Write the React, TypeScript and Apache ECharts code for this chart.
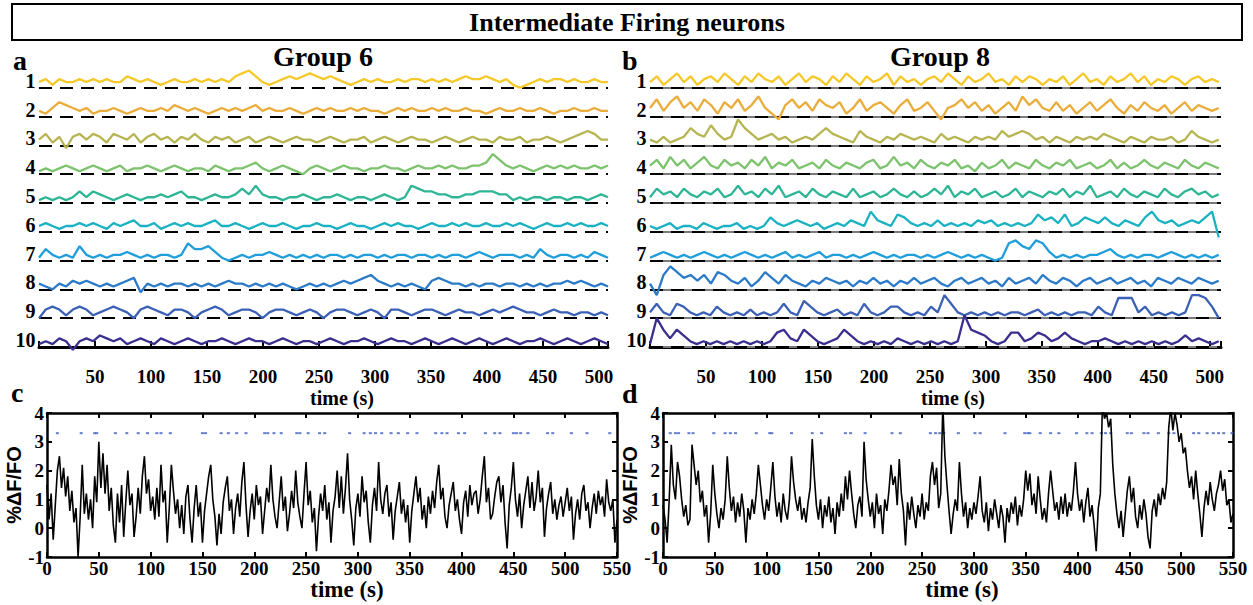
import React, { useEffect, useRef } from "react";
import * as echarts from "echarts";

// ---------- DATA ----------
const traceLabels = ["1", "2", "3", "4", "5", "6", "7", "8", "9", "10"];
const traceColors = ["#f7c82a", "#eaad3c", "#b7b552", "#7dc26d", "#2db596", "#1ab2c2", "#1f9edb", "#2b7bc8", "#3b61b7", "#3a2e8f"];
const xTicksTop = [50, 100, 150, 200, 250, 300, 350, 400, 450, 500];
const durationTop = 508;
const durationBottom = 550;

// Group 6 traces (amplitude in tenths of the row spacing), 0..508 s
const a1 = [2,3,1,3,2,2,3,2,3,2, 3,2,2,4,3,2,3,2,1,2, 3,2,2,3,2,3,2,3,2,4, 5,6,4,2,1,2,3,4,3,4, 5,4,3,4,3,2,1,2,3,2, 3,2,2,3,2,3,3,2,3,2, 3,2,3,4,3,3,4,3,2,3, 1,0,1,2,3,2,3,3,2,3, 2,2,3,2,2];
const a2 = [2,1,3,5,4,3,2,3,1,2, 2,3,2,1,2,3,2,2,3,2, 4,3,2,3,2,1,2,3,2,3, 2,3,4,2,3,2,2,3,2,1, 2,3,2,3,2,2,3,2,3,2, 2,1,2,3,2,3,2,2,3,2, 3,2,2,3,2,2,1,2,3,2, 2,3,2,2,3,2,1,2,2,3, 2,2,3,2,2];
const a3 = [2,4,1,3,-1,3,4,2,4,3, 1,4,3,2,4,1,3,4,2,3, 1,3,2,4,2,1,3,2,3,1, 2,3,1,2,3,2,1,2,3,2, 2,1,2,3,2,1,2,2,3,1, 2,3,2,1,2,3,2,2,1,2, 3,2,1,2,3,2,2,1,3,2, 2,3,1,2,2,3,2,1,2,3, 4,5,4,2,2];
const a4 = [1,2,1,2,3,2,1,2,3,2, 1,2,3,1,2,2,3,2,1,2, 3,2,1,2,2,1,3,2,1,2, 2,3,4,2,1,2,3,2,1,0, 2,3,2,1,2,3,2,2,1,2, 2,3,2,2,1,2,3,2,2,3, 2,3,2,2,3,3,4,7,5,3, 2,3,2,1,2,3,2,3,2,3, 2,2,3,2,3];
const a5 = [1,2,1,2,1,2,4,2,4,3, 2,1,2,3,2,1,2,2,3,2, 3,4,2,2,1,2,3,2,2,3, 5,3,6,3,2,2,1,2,2,3, 2,1,2,2,3,2,1,2,2,1, 2,3,2,1,2,6,5,4,4,3, 3,2,2,3,3,4,4,4,3,3, 1,2,1,2,2,1,2,2,1,2, 2,1,2,3,2];
const a6 = [2,3,2,1,2,2,3,2,3,2, 1,3,2,3,4,2,2,3,1,2, 3,2,3,2,2,3,4,2,2,3, 2,1,2,3,2,2,3,2,1,2, 2,3,2,2,1,2,3,2,2,1, 2,3,2,3,2,2,1,2,3,2, 2,3,2,3,2,2,3,2,2,3, 2,3,2,1,2,3,2,2,3,2, 3,2,2,3,2];
const a7 = [1,4,2,1,2,1,5,2,1,2, 1,2,2,3,2,1,2,1,2,2, 1,2,6,4,4,5,3,1,0,1, 2,1,2,2,3,2,1,2,1,2, 1,2,1,2,2,1,2,1,2,2, 1,2,1,2,2,1,2,2,1,2, 1,2,2,1,2,3,2,1,2,2, 2,1,2,1,4,2,1,2,2,1, 2,1,3,2,1];
const a8 = [2,1,0,2,1,3,2,3,2,1, 2,1,2,3,4,-1,2,1,2,1, 2,2,1,2,1,2,1,2,3,2, 2,1,2,1,2,1,2,1,0,1, 2,1,2,1,2,3,2,3,4,5, 3,2,1,2,1,2,1,0,3,4, 3,2,2,1,2,1,2,2,1,2, 2,1,2,1,2,1,2,2,3,2, 3,2,1,2,1];
const a9 = [0,3,4,3,1,3,4,3,1,2, 3,4,3,2,0,3,4,3,2,1, 3,3,2,0,2,3,4,3,1,2, 3,3,2,0,2,3,3,2,1,2, 3,2,0,2,3,3,2,1,2,3, 2,0,3,3,2,1,2,3,3,2, 1,2,3,2,2,1,2,3,2,3, 4,3,2,2,1,2,3,2,2,1, 2,2,1,2,1];
const a10 = [1,2,1,3,2,-1,2,3,2,4, 3,2,3,1,2,3,2,1,3,2, 1,2,3,2,1,2,2,3,2,1, 2,3,2,2,1,2,3,2,1,2, 2,1,2,3,2,1,2,2,3,2, 1,2,3,2,2,1,2,3,2,1, 2,3,2,1,2,3,2,1,2,3, 2,1,2,2,3,2,1,2,3,2, 1,2,3,2,1];

// Group 8 traces, 0..508 s
const b1 = [2,4,1,3,5,2,4,1,3,4, 2,5,3,1,4,2,5,3,2,4, 1,3,5,2,4,3,1,4,2,5, 3,1,4,2,3,5,1,4,2,3, 1,3,4,2,5,3,1,4,2,3, 5,2,3,1,4,2,4,3,1,3, 2,4,1,3,5,2,3,1,4,2, 3,5,2,4,1,3,2,4,3,1, 3,4,2,3,2];
const b2 = [3,6,2,5,7,3,5,2,6,4, 1,5,3,6,2,4,7,3,1,-1, 4,6,3,5,2,6,4,3,5,1, 3,6,2,4,5,3,1,4,6,2, 3,5,2,-1,3,4,6,3,5,2, 4,1,3,5,2,7,4,6,3,2, 5,2,4,1,3,5,2,4,6,3, 1,4,2,5,3,2,4,1,3,5, 2,4,3,2,3];
const b3 = [2,1,3,1,2,3,6,4,3,7, 4,2,3,9,6,4,2,3,4,2, 3,1,2,3,2,4,6,4,3,2, 1,5,3,2,1,3,2,4,3,2, 3,2,1,4,2,3,2,1,3,2, 3,2,5,3,4,5,4,2,3,1, 3,2,1,3,2,3,2,4,3,2, 1,3,2,1,3,2,2,3,1,2, 5,3,2,1,2];
const b4 = [3,5,2,6,3,5,2,4,6,3, 2,5,3,4,2,5,3,6,2,4, 3,5,2,3,4,2,5,3,2,4, 3,2,4,5,2,3,6,3,4,2, 5,3,2,4,3,5,2,3,1,4, 2,3,5,2,4,3,2,5,3,2, 4,3,5,2,3,4,2,3,5,2, 4,2,3,5,3,2,4,3,2,5, 3,2,4,3,2];
const b5 = [2,5,3,4,2,5,3,2,4,3, 5,2,3,6,3,4,2,5,3,6, 2,3,4,2,5,3,2,4,3,2, 5,2,3,4,2,3,5,3,2,4, 2,3,5,3,6,2,4,3,5,2, 3,4,2,3,5,2,4,3,2,4, 3,5,2,4,3,6,2,3,4,2, 5,3,2,4,3,2,5,3,2,4, 5,3,4,2,3];
const b6 = [2,1,2,3,1,2,2,1,3,2, 1,2,2,3,1,2,1,2,5,3, 2,3,4,3,2,3,1,2,3,2, 4,3,2,7,4,3,2,6,5,3, 2,3,2,4,2,3,2,3,2,4, 3,4,2,3,2,3,2,3,6,4, 5,3,6,2,3,5,4,3,5,3, 2,4,3,2,5,7,4,3,4,2, 3,4,3,5,7,-2];
const b7 = [1,2,3,2,1,2,1,2,3,2, 1,2,1,2,3,2,1,2,1,2, 3,1,2,1,2,3,1,2,2,1, 2,1,2,3,2,1,2,1,2,2, 1,2,1,2,3,2,1,2,1,2, 1,0,1,6,7,5,4,7,6,3, 1,2,1,2,1,2,2,3,4,2, 1,2,1,2,2,1,2,3,2,1, 2,1,2,1,2];
const b8 = [2,-2,5,8,6,4,5,3,5,2, 6,5,3,2,4,1,3,6,4,2, 5,3,2,1,3,2,4,3,2,3, 1,3,2,4,2,3,1,3,2,4, 2,3,4,2,1,3,4,2,3,4, 2,3,1,4,2,3,4,2,5,3, 2,4,3,1,3,4,2,3,4,2, 3,4,2,3,1,4,3,2,4,3, 2,4,3,2,3];
const b9 = [2,5,2,1,5,4,2,1,2,1, 4,2,1,2,1,3,1,2,1,2, 5,2,1,6,4,2,1,2,3,1, 2,1,5,2,1,2,4,4,2,1, 2,1,4,2,8,5,2,1,2,1, 2,1,2,1,2,2,1,2,3,1, 2,1,2,1,2,2,1,4,2,1, 7,7,7,2,4,1,2,1,2,1, 2,8,8,7,4,0];
const b10 = [1,10,6,3,6,4,2,1,2,1, 2,1,2,1,2,1,2,1,2,5, 6,3,2,6,4,2,1,2,3,6, 4,2,1,2,1,2,1,3,2,1, 2,1,2,1,2,1,2,11,6,5, 4,2,1,2,5,5,2,3,5,4, 2,3,5,3,2,1,2,2,3,2, 1,2,1,2,1,2,1,2,1,2, 4,2,3,2,1,2];

// Mean traces (tenths of %ΔF/F0), every 2 s from 0 to 550 s
const cTrace = [
  15,3,12,-4,8,20,25,14,21,11,18,6,13,2,7,-10,4,22,5,12,3,10,0,18,9,
  30,14,26,12,22,6,14,1,-5,12,2,15,-3,9,20,8,12,-3,4,14,5,18,25,12,17,
  6,11,3,14,4,22,9,13,-5,7,22,13,5,10,0,8,-2,11,15,3,-5,7,15,4,9,
  -5,6,12,18,22,10,4,-6,5,-2,9,14,18,6,10,-2,7,12,4,16,23,8,-3,6,12,
  3,15,8,11,-2,6,14,9,22,10,4,0,9,18,6,11,-1,5,13,7,20,9,4,0,12,
  23,8,13,2,7,-8,4,12,6,15,3,9,-5,6,11,20,7,18,5,14,26,10,3,-6,7,
  12,4,18,9,13,2,-5,8,14,6,23,10,5,12,15,4,9,-4,6,11,16,5,10,2,8,
  -5,6,12,18,9,14,3,8,0,11,5,13,7,16,22,10,14,4,0,8,12,16,6,10,3,
  -2,9,13,4,15,8,12,13,5,10,18,25,9,14,3,5,11,16,18,9,15,2,-7,8,14,
  23,10,4,12,0,8,13,18,7,16,6,11,20,9,14,-3,7,12,16,5,10,3,8,11,4,
  9,14,6,11,-4,5,10,3,12,15,6,9,0,7,12,5,13,8,11,4,17,9,6,10,-5,3
];
const dTrace = [
  8,3,-5,10,29,15,10,23,18,10,4,8,1,3,29,22,15,20,9,13,4,8,-5,5,22,
  12,5,0,7,3,10,25,14,6,11,2,9,4,12,6,-5,7,3,10,5,12,22,15,8,3,
  10,6,14,23,11,4,9,2,12,6,3,10,25,16,10,6,11,3,7,2,9,14,31,18,8,
  3,10,0,8,4,11,2,7,-2,9,4,12,6,18,10,20,12,5,0,8,11,4,30,17,10,
  4,9,0,12,5,8,-2,10,6,13,22,15,18,8,24,12,6,-6,9,3,11,5,0,8,4,
  12,3,9,6,18,23,15,21,7,12,43,25,15,6,-2,5,10,6,23,12,4,9,0,7,3,
  9,5,11,18,6,2,9,-1,7,3,10,5,0,8,4,-5,7,2,9,5,11,1,8,4,10,
  20,13,19,8,12,5,18,10,3,7,2,12,20,13,6,9,3,11,5,12,4,9,6,13,23,
  12,6,10,2,9,14,4,8,1,-8,7,12,43,38,40,35,38,22,12,5,0,6,-3,5,13,
  18,9,14,4,0,8,3,10,5,-3,-7,6,10,4,12,8,14,10,16,35,42,34,40,36,30,
  33,26,28,20,14,18,10,20,12,5,-3,7,13,8,16,10,6,12,15,20,13,17,8,10,2,5
];
// detected events (s), drawn at the top of panels c and d
const cEvents = [10,33,46,48,66,77,88,97,106,110,119,150,153,168,175,183,192,210,213,219,226,241,244,252,263,268,292,306,312,317,323,332,339,348,357,375,381,386,397,403,423,432,437,450,453,457,464,483,488,506,521,543];
const dEvents = [7,12,15,25,29,49,60,65,70,90,103,105,124,144,153,176,181,195,221,229,258,263,267,271,285,301,306,330,349,352,354,364,374,382,399,409,414,423,427,432,448,452,464,468,478,488,493,512,517,525,531,536,541,549];
const eventLevel = 3.3;

const groupA = [a1, a2, a3, a4, a5, a6, a7, a8, a9, a10];
const groupB = [b1, b2, b3, b4, b5, b6, b7, b8, b9, b10];

// ---------- STYLE ----------
const serif = '"Liberation Serif", "Times New Roman", serif';
const sans = '"Liberation Sans", Arial, sans-serif';

function traceSeries(arr: number[], i: number, gridIdx: number, tmax: number, dashedOnly: boolean) {
  const step = tmax / (arr.length - 1);
  const base = 9 - i;
  const lines: any[] = dashedOnly
    ? [{ yAxis: base, lineStyle: { color: "#000", width: 2, type: [13, 8] } }]
    : [
        { yAxis: base, lineStyle: { color: "#7a7a7a", width: 2, type: "solid" } },
        { yAxis: base, lineStyle: { color: "#000", width: 2, type: [13, 8] } },
      ];
  return {
    type: "line",
    xAxisIndex: gridIdx,
    yAxisIndex: gridIdx,
    data: arr.map((v, k) => [k * step, base + v / 10]),
    showSymbol: false,
    symbol: "none",
    lineStyle: { color: traceColors[i], width: 2.3, join: "bevel" },
    itemStyle: { color: traceColors[i] },
    z: 3,
    markLine: {
      silent: true,
      symbol: ["none", "none"],
      label: { show: false },
      z: 2,
      data: lines,
    },
    markPoint: {
      silent: true,
      symbol: "circle",
      symbolSize: 1,
      itemStyle: { color: "rgba(0,0,0,0)" },
      data: [
        {
          coord: [0, base],
          label: {
            show: true,
            position: "left",
            distance: 3,
            offset: [0, -7],
            formatter: traceLabels[i],
            color: "#000",
            fontFamily: serif,
            fontWeight: "bold",
            fontSize: 20,
          },
        },
      ],
    },
  };
}

function topXAxis(gridIndex: number, max: number) {
  return {
    type: "value",
    gridIndex,
    min: 0,
    max,
    interval: 50,
    axisLine: { show: true, lineStyle: { color: "#000", width: 3 } },
    axisTick: { show: true, inside: true, length: 6, lineStyle: { color: "#000", width: 2 } },
    axisLabel: {
      margin: 2,
      color: "#000",
      fontFamily: serif,
      fontWeight: "bold",
      fontSize: 19,
      formatter: (v: number) => (xTicksTop.indexOf(v) >= 0 ? String(v) : ""),
    },
    splitLine: { show: false },
  };
}

function frameXAxes(gridIndex: number) {
  const common = {
    type: "value",
    gridIndex,
    min: 0,
    max: durationBottom,
    interval: 50,
    axisLine: { show: true, onZero: false, lineStyle: { color: "#000", width: 2.5 } },
    axisTick: { show: true, inside: true, length: 5, lineStyle: { color: "#000", width: 2 } },
    splitLine: { show: false },
  };
  return [
    {
      ...common,
      position: "bottom",
      axisLabel: { margin: 2, color: "#000", fontFamily: serif, fontWeight: "bold", fontSize: 19 },
    },
    { ...common, position: "top", axisLabel: { show: false } },
  ];
}

function frameYAxes(gridIndex: number) {
  const common = {
    type: "value",
    gridIndex,
    min: -1,
    max: 4,
    interval: 1,
    axisLine: { show: true, onZero: false, lineStyle: { color: "#000", width: 2.5 } },
    axisTick: { show: true, inside: true, length: 5, lineStyle: { color: "#000", width: 2 } },
    splitLine: { show: false },
  };
  return [
    {
      ...common,
      position: "left",
      name: "%ΔF/FO",
      nameLocation: "middle",
      nameRotate: 90,
      nameGap: 20,
      nameTextStyle: { color: "#000", fontFamily: sans, fontWeight: "bold", fontSize: 20 },
      axisLabel: { margin: 3, color: "#000", fontFamily: serif, fontWeight: "bold", fontSize: 19 },
    },
    { ...common, position: "right", axisLabel: { show: false } },
  ];
}

function hiddenY(gridIndex: number) {
  return { type: "value", gridIndex, min: -0.64, max: 10, show: false, splitLine: { show: false } };
}

function txt(text: string, x: number, y: number, size: number, align = "center", family = serif) {
  return {
    type: "text",
    x,
    y,
    silent: true,
    style: { text, fill: "#000", font: `bold ${size}px ${family}`, align, verticalAlign: "middle" },
  };
}

export default function App() {
  const ref = useRef<HTMLDivElement>(null);
  useEffect(() => {
    if (!ref.current) return;
    const chart = echarts.init(ref.current, undefined, { renderer: "svg" });
    const fx = [...frameXAxes(2), ...frameXAxes(3)];
    const fy = [...frameYAxes(2), ...frameYAxes(3)];
    const option: any = {
      animation: false,
      backgroundColor: "#fff",
      grid: [
        { left: 39, top: 59, width: 569, height: 306.4, outerBoundsMode: "none" },
        { left: 650, top: 59, width: 571, height: 306.4, outerBoundsMode: "none" },
        { left: 47, top: 413, width: 570, height: 144, outerBoundsMode: "none" },
        { left: 663, top: 413, width: 570, height: 144, outerBoundsMode: "none" },
      ],
      xAxis: [topXAxis(0, durationTop), topXAxis(1, 510), ...fx],
      yAxis: [hiddenY(0), hiddenY(1), ...fy],
      series: [
        ...groupA.map((arr, i) => traceSeries(arr, i, 0, durationTop, true)),
        ...groupB.map((arr, i) => traceSeries(arr, i, 1, durationTop, false)),
        {
          type: "line",
          xAxisIndex: 2,
          yAxisIndex: 2,
          data: cTrace.map((v, k) => [(k * durationBottom) / (cTrace.length - 1), v / 10]),
          showSymbol: false,
          symbol: "none",
          lineStyle: { color: "#000", width: 1.6 },
          clip: true,
        },
        {
          type: "line",
          xAxisIndex: 4,
          yAxisIndex: 4,
          data: dTrace.map((v, k) => [(k * durationBottom) / (dTrace.length - 1), v / 10]),
          showSymbol: false,
          symbol: "none",
          lineStyle: { color: "#000", width: 1.6 },
          clip: true,
        },
        {
          type: "scatter",
          xAxisIndex: 2,
          yAxisIndex: 2,
          data: cEvents.map((t) => [t, eventLevel]),
          symbol: "rect",
          symbolSize: [3, 2],
          itemStyle: { color: "#3d5cc0" },
        },
        {
          type: "scatter",
          xAxisIndex: 4,
          yAxisIndex: 4,
          data: dEvents.map((t) => [t, eventLevel]),
          symbol: "rect",
          symbolSize: [3, 2],
          itemStyle: { color: "#3d5cc0" },
        },
      ],
      graphic: [
        {
          type: "rect",
          silent: true,
          shape: { x: 12, y: 4, width: 1230, height: 36 },
          style: { fill: "none", stroke: "#000", lineWidth: 2 },
        },
        txt("Intermediate Firing neurons", 627, 22, 26),
        txt("Group 6", 323, 56, 28),
        txt("Group 8", 940, 56, 28),
        txt("a", 13, 60, 28, "left"),
        txt("b", 622, 60, 28, "left"),
        txt("c", 11, 392, 28, "left"),
        txt("d", 622, 393, 28, "left"),
        txt("time (s)", 342, 398, 20),
        txt("time (s)", 953, 398, 20),
        txt("time (s)", 347, 589, 23),
        txt("time (s)", 962, 589, 23),
      ],
    };
    chart.setOption(option);
    return () => chart.dispose();
  }, []);
  return <div ref={ref} style={{ position: "absolute", left: 0, top: 0, width: 1253, height: 605 }} />;
}
